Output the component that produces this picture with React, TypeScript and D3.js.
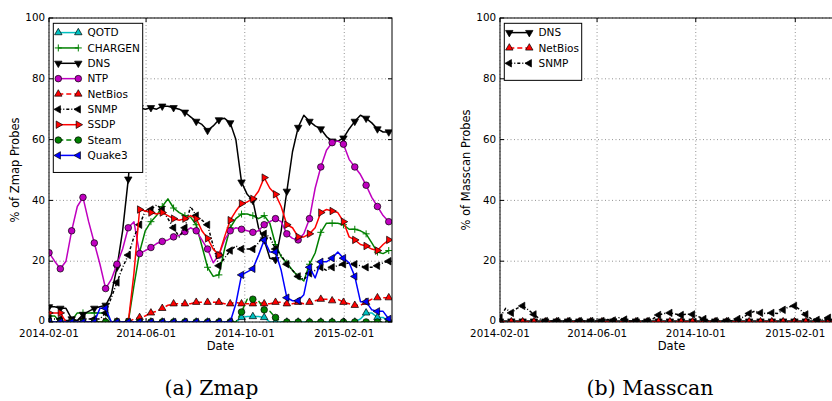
import React, { useEffect, useRef } from "react";
import * as d3 from "d3";

// weekly samples, starting 2014-02-01
const startDate = new Date(Date.UTC(2014, 1, 1));
const endDate = new Date(Date.UTC(2015, 3, 1));
const tickDates = ["2014-02-01", "2014-06-01", "2014-10-01", "2015-02-01"];
const yTicks = [0, 20, 40, 60, 80, 100];

// Zmap panel
const qotd = [
  0, 0, 0, 0, 0, 0, 0, 0, 0, 0,
  0, 0, 0, 0, 0, 0, 0, 0, 0, 0,
  0, 0, 0, 0, 0, 0, 0, 0, 0, 0,
  0, 0, 0, 0, 1.5, 1.8, 1.8, 1.8, 1.5, 0,
  0, 0, 0, 0, 0, 0, 0, 0, 0, 0,
  0, 0, 0, 0, 0, 1, 3, 3, 1.5, 1.5,
  0,
];
const chargen = [
  2, 2, 0, 0, 0.5, 3, 3, 3, 3, 3,
  3, 0, 0, 0, 0, 12, 23, 30, 33, 35,
  38, 40.5, 37.5, 36, 35, 34.5, 32, 25, 18, 15,
  15.5, 24, 31, 34, 35.5, 35.5, 35, 34, 35, 32.5,
  25.5, 21.5, 19.4, 17, 15, 13.5, 19, 22.7, 29.5, 32.5,
  32.5, 32.5, 32, 30.5, 30.5, 30, 29, 26, 23, 22.5,
  23.5,
];
const dns = [
  5, 5, 4.5, 4.5, 1, 0.5, 2.5, 3.5, 4.5, 5,
  5.5, 9, 18, 30, 47, 68, 70.5, 70, 70.5, 70,
  71, 71, 70.5, 70, 69, 67.5, 66, 65, 63, 64.5,
  66.5, 67, 65.5, 60, 46, 42, 40, 31, 27, 21,
  20.5, 30, 43, 56, 64, 68, 66, 64.5, 63.5, 61,
  59.5, 59.5, 60.5, 63.5, 66, 68, 67, 65.5, 63.5, 62.5,
  62.5,
];
const ntp = [
  22.8, 20, 17.5, 20, 30, 38, 41, 33, 26, 19,
  11, 14, 19, 24, 31, 33, 22.5, 23.5, 24.5, 25.8,
  26.5, 27, 28, 28.5, 29.7, 31, 30, 27, 24, 19.5,
  22, 27, 30, 31, 30.5, 30, 29.5, 30, 32, 33,
  34, 33, 29, 27.5, 27, 29, 34, 44, 51, 56.5,
  59, 59.5, 58.5, 53.5, 51, 48.5, 45, 41, 38, 35,
  33,
];
const netbios = [
  0, 0, 0, 0, 0, 0, 0, 0, 0, 0,
  0, 0, 0, 0, 0, 1, 1.5, 2, 3, 3.5,
  4.5, 5.5, 6, 6, 6, 6, 6.5, 6.5, 6.5, 6.5,
  6.5, 6, 6, 6.5, 6, 6, 6, 6.5, 6, 6,
  6.5, 6.5, 6, 6, 6.5, 6, 6.5, 7, 7.5, 7.5,
  7, 7.5, 6.5, 6, 5.5, 5.5, 6.5, 7.5, 8, 8,
  8,
];
const snmp = [
  1, 1, 1, 0.5, 0.5, 0.5, 1, 1, 1, 1,
  3, 8, 13, 18, 22, 28, 32, 36.5, 37, 38.5,
  37, 34, 31, 28, 31, 38, 35, 33.5, 32, 25,
  18.5, 21, 23.5, 25, 24, 24, 24, 26, 29, 28,
  24, 22, 19, 17, 15, 14, 16, 17, 18, 17,
  18, 18.5, 19, 19.5, 19, 18.5, 18, 18, 18.5, 19.5,
  20,
];
const ssdp = [
  3, 3, 3, 0, 0, 0, 0, 0, 0, 0,
  0, 0, 0, 0, 0, 16, 37, 36.5, 36, 35.5,
  36, 35, 34, 33.5, 34, 35, 34, 30, 27.5, 24,
  22, 28, 33.5, 36.5, 39, 39.5, 40.5, 43, 47.5, 44,
  42, 38, 32, 31, 28, 28, 29, 31, 36, 37,
  36.5, 36, 33, 28, 27, 25.5, 25, 24, 23.5, 25.5,
  27,
];
const steam = [
  0, 0, 0, 0, 0, 0, 0, 0, 0, 0,
  0, 0, 0, 0, 0, 0, 0, 0, 0, 0,
  0, 0, 0, 0, 0, 0, 0, 0, 0, 0,
  0, 0, 0, 0, 3.3, 7.5, 7.5, 7, 4, 3.5,
  1.5, 0, 0, 0, 0, 0, 0, 0, 0, 0,
  0, 0, 0, 0, 0, 0, 0, 0, 0, 0,
  0,
];
const quake3 = [
  0, 0, 0, 0, 0, 0, 0, 0, 0, 4.5,
  4.5, 0, 0, 0, 0, 0, 0, 0, 0, 0,
  0, 0, 0, 0, 0, 0, 0, 0, 0, 0,
  0, 0, 0, 6, 15.5, 16.5, 17.5, 22, 27, 23,
  23, 17, 8, 7, 7, 9, 18, 14.5, 19.8, 19.8,
  21, 23, 21, 19.5, 15, 6.7, 6.7, 4, 3.5, 3.5,
  1,
];

// Masscan panel
const mDns = [
  0.3, 0.3, 0.3, 0.3, 0.3, 0.3, 0.3, 0.3, 0.3, 0.3,
  0.3, 0.3, 0.3, 0.3, 0.3, 0.3, 0.3, 0.3, 0.3, 0.3,
  0.3, 0.3, 0.3, 0.3, 0.3, 0.3, 0.3, 0.3, 0.3, 0.3,
  0.3, 0.3, 0.3, 0.3, 0.3, 0.3, 0.3, 0.3, 0.3, 0.3,
  0.3, 0.3, 0.3, 0.3, 0.3, 0.3, 0.3, 0.3, 0.3, 0.3,
  0.3, 0.3, 0.3, 0.3, 0.3, 0.3, 0.3, 0.3, 0.3, 0.3,
  0.3,
];
const mNetbios = [
  0.1, 0.1, 0.1, 0.1, 0.1, 0.1, 0.1, 0.1, 0.1, 0.1,
  0.1, 0.1, 0.1, 0.1, 0.1, 0.1, 0.1, 0.1, 0.1, 0.1,
  0.1, 0.1, 0.1, 0.1, 0.1, 0.1, 0.1, 0.1, 0.1, 0.1,
  0.1, 0.1, 0.1, 0.1, 0.1, 0.1, 0.1, 0.1, 0.1, 0.1,
  0.1, 0.1, 0.1, 0.1, 0.1, 0.1, 0.1, 0.1, 0.1, 0.1,
  0.1, 0.1, 0.1, 0.1, 0.1, 0.1, 0.1, 0.1, 0.1, 0.1,
  0.1,
];
const mSnmp = [
  1.5, 4.5, 3, 4.5, 5.3, 4, 2.5, 1, 0.3, 0.3,
  0.3, 0.3, 0.3, 0.3, 0.3, 0.3, 0.3, 0.3, 0.3, 0.8,
  0.5, 1.4, 0.8, 0.3, 0.3, 0.3, 0.3, 1, 2.3, 2.8,
  3, 2.6, 2.3, 2.6, 2.5, 1.8, 1, 0.3, 0.3, 0.3,
  0.3, 0.5, 1, 1.6, 2.8, 3.6, 3, 2.8, 3, 2.8,
  4, 5, 5.3, 4, 2.5, 1, 0.7, 0.8, 1.4, 1,
  1,
];

type Series = {
  name: string;
  values: number[];
  color: string;
  dash: string | null;
  marker: string;
};

const zmapSeries: Series[] = [
  { name: "QOTD", values: qotd, color: "#00bfbf", dash: null, marker: "up" },
  { name: "CHARGEN", values: chargen, color: "#008000", dash: null, marker: "plus" },
  { name: "DNS", values: dns, color: "#000000", dash: null, marker: "down" },
  { name: "NTP", values: ntp, color: "#bf00bf", dash: null, marker: "circle" },
  { name: "NetBios", values: netbios, color: "#ff0000", dash: "5,3", marker: "up" },
  { name: "SNMP", values: snmp, color: "#000000", dash: "3,2,1,2", marker: "left" },
  { name: "SSDP", values: ssdp, color: "#ff0000", dash: null, marker: "right" },
  { name: "Steam", values: steam, color: "#008000", dash: "5,3", marker: "circle" },
  { name: "Quake3", values: quake3, color: "#0000ff", dash: null, marker: "left" },
];

const masscanSeries: Series[] = [
  { name: "DNS", values: mDns, color: "#000000", dash: null, marker: "down" },
  { name: "NetBios", values: mNetbios, color: "#ff0000", dash: "5,3", marker: "up" },
  { name: "SNMP", values: mSnmp, color: "#000000", dash: "3,2,1,2", marker: "left" },
];

const TOP = 18;
const BOTTOM = 322;
const FONT = "DejaVu Sans";

function drawMarker(g: any, type: string, x: number, y: number, color: string) {
  if (type === "circle") {
    g.append("circle")
      .attr("cx", x)
      .attr("cy", y)
      .attr("r", 3.3)
      .attr("fill", color)
      .attr("stroke", "#000")
      .attr("stroke-width", 0.7);
    return;
  }
  if (type === "plus") {
    g.append("path")
      .attr("d", `M${x - 3.5},${y}H${x + 3.5}M${x},${y - 3.5}V${y + 3.5}`)
      .attr("stroke", color)
      .attr("stroke-width", 1);
    return;
  }
  const rot = { up: 0, down: 180, left: -90, right: 90 }[type] ?? 0;
  g.append("path")
    .attr("d", d3.symbol(d3.symbolTriangle, 24)())
    .attr("transform", `translate(${x},${y}) rotate(${rot})`)
    .attr("fill", color)
    .attr("stroke", "#000")
    .attr("stroke-width", 0.7);
}

function drawPanel(
  svg: any,
  id: string,
  left: number,
  right: number,
  series: Series[],
  yLabel: string,
  legendWidth: number,
  caption: string,
  captionX: number
) {
  const x = d3.scaleUtc().domain([startDate, endDate]).range([left, right]);
  const y = d3.scaleLinear().domain([0, 100]).range([BOTTOM, TOP]);
  const g = svg.append("g");

  g.append("clipPath")
    .attr("id", id)
    .append("rect")
    .attr("x", left)
    .attr("y", TOP)
    .attr("width", right - left)
    .attr("height", BOTTOM - TOP);

  // dotted grid
  const grid = g.append("g").attr("stroke", "#777").attr("stroke-width", 0.8).attr("stroke-dasharray", "1,2.5");
  tickDates.forEach((t) => {
    const xx = x(new Date(t + "T00:00:00Z"));
    grid.append("line").attr("x1", xx).attr("x2", xx).attr("y1", TOP).attr("y2", BOTTOM);
  });
  yTicks.forEach((t) => {
    grid.append("line").attr("x1", left).attr("x2", right).attr("y1", y(t)).attr("y2", y(t));
  });

  // series
  const plot = g.append("g").attr("clip-path", `url(#${id})`);
  const line = d3.line<[number, number]>();
  series.forEach((s) => {
    const pts: [number, number][] = s.values.map((v, i) => [
      x(d3.utcDay.offset(startDate, 7 * i)),
      y(v),
    ]);
    const sg = plot.append("g");
    sg.append("path")
      .attr("d", line(pts))
      .attr("fill", "none")
      .attr("stroke", s.color)
      .attr("stroke-width", 1.5)
      .attr("stroke-linejoin", "round")
      .attr("stroke-dasharray", s.dash);
    pts.forEach((p, i) => {
      if (i % 2 === 0) drawMarker(sg, s.marker, p[0], p[1], s.color);
    });
  });

  // frame and ticks
  g.append("rect")
    .attr("x", left)
    .attr("y", TOP)
    .attr("width", right - left)
    .attr("height", BOTTOM - TOP)
    .attr("fill", "none")
    .attr("stroke", "#000")
    .attr("stroke-width", 1);

  const ticks = g.append("g").attr("stroke", "#000").attr("stroke-width", 1);
  yTicks.forEach((t) => {
    ticks.append("line").attr("x1", left).attr("x2", left + 4).attr("y1", y(t)).attr("y2", y(t));
    ticks.append("line").attr("x1", right - 4).attr("x2", right).attr("y1", y(t)).attr("y2", y(t));
    g.append("text")
      .attr("x", left - 4)
      .attr("y", y(t))
      .attr("dy", t === 0 ? "0.2em" : "0.32em")
      .attr("text-anchor", "end")
      .attr("font-family", FONT)
      .attr("font-size", 10.3)
      .text(t);
  });
  tickDates.forEach((t) => {
    const xx = x(new Date(t + "T00:00:00Z"));
    ticks.append("line").attr("x1", xx).attr("x2", xx).attr("y1", BOTTOM).attr("y2", BOTTOM - 4);
    ticks.append("line").attr("x1", xx).attr("x2", xx).attr("y1", TOP).attr("y2", TOP + 4);
    g.append("text")
      .attr("x", xx)
      .attr("y", 337)
      .attr("text-anchor", "middle")
      .attr("font-family", FONT)
      .attr("font-size", 10.3)
      .text(t);
  });

  g.append("text")
    .attr("x", (left + right) / 2)
    .attr("y", 350)
    .attr("text-anchor", "middle")
    .attr("font-family", FONT)
    .attr("font-size", 11.5)
    .text("Date");

  g.append("text")
    .attr("transform", `translate(${left - 30.5},170) rotate(-90)`)
    .attr("text-anchor", "middle")
    .attr("font-family", FONT)
    .attr("font-size", 11.5)
    .text(yLabel);

  // legend
  const lg = g.append("g");
  const rowH = 15.35;
  lg.append("rect")
    .attr("x", left + 4.3)
    .attr("y", 23.3)
    .attr("width", legendWidth)
    .attr("height", series.length * rowH + 11)
    .attr("fill", "#fff")
    .attr("stroke", "#000")
    .attr("stroke-width", 1);
  series.forEach((s, i) => {
    const yy = 32.6 + i * rowH;
    const x0 = left + 9.3;
    const x1 = left + 29.3;
    lg.append("line")
      .attr("x1", x0)
      .attr("x2", x1)
      .attr("y1", yy)
      .attr("y2", yy)
      .attr("stroke", s.color)
      .attr("stroke-width", 1.5)
      .attr("stroke-dasharray", s.dash);
    drawMarker(lg, s.marker, x0, yy, s.color);
    drawMarker(lg, s.marker, x1, yy, s.color);
    lg.append("text")
      .attr("x", left + 38.5)
      .attr("y", yy)
      .attr("dy", "0.35em")
      .attr("font-family", FONT)
      .attr("font-size", 10.5)
      .text(s.name);
  });

  // sub-figure caption
  g.append("text")
    .attr("x", captionX)
    .attr("y", 395)
    .attr("text-anchor", "middle")
    .attr("font-family", "DejaVu Serif")
    .attr("font-size", 20.5)
    .text(caption);
}

const App = () => {
  const ref = useRef<SVGSVGElement>(null);

  useEffect(() => {
    const svg = d3.select(ref.current);
    svg.selectAll("*").remove();
    drawPanel(svg, "clipZmap", 49, 392, zmapSeries, "% of Zmap Probes", 89.4, "(a) Zmap", 211.5);
    drawPanel(svg, "clipMasscan", 500, 843, masscanSeries, "% of Masscan Probes", 77.4, "(b) Masscan", 650);
  }, []);

  return (
    <div style={{ position: "absolute", left: 0, top: 0 }}>
      <svg ref={ref} width={832} height={401} style={{ display: "block", background: "#fff" }} />
    </div>
  );
};

export default App;
